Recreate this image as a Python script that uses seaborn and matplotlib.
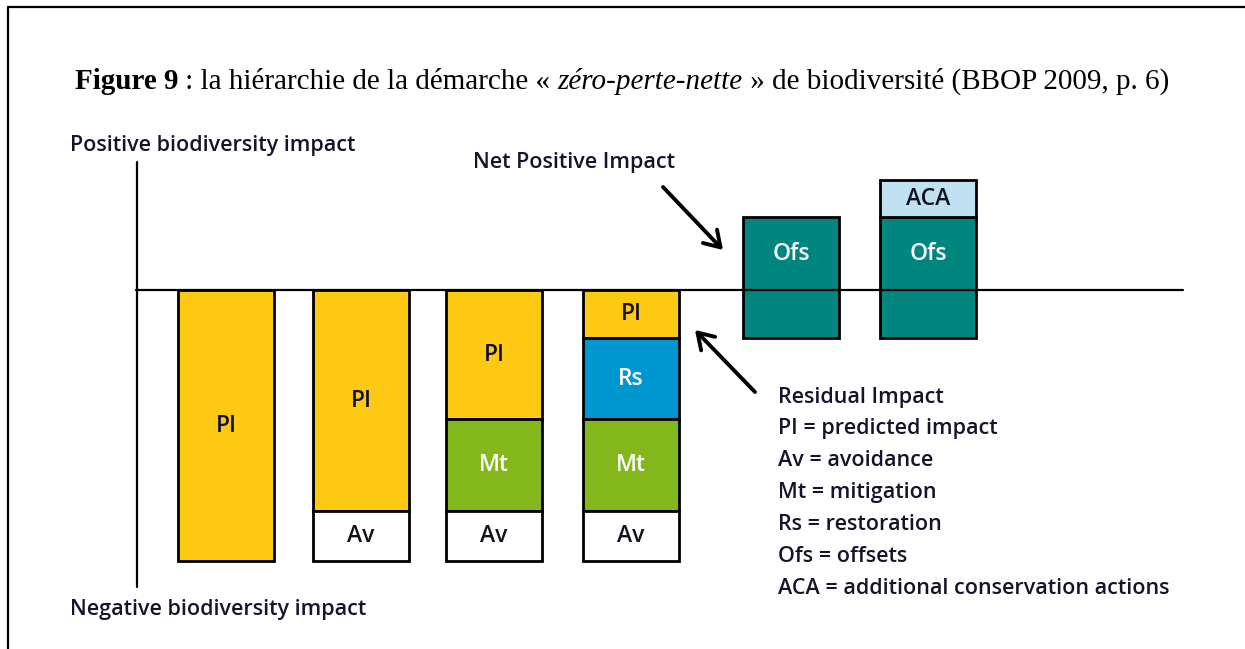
import matplotlib
matplotlib.use("Agg")
import matplotlib.pyplot as plt
import pandas as pd
import seaborn as sns

# bars of the mitigation hierarchy, left to right
bars = ["PI", "PI-Av", "PI-Av-Mt", "Residual", "Offset", "Offset+ACA"]
# losses, drawn below the zero line (impact units)
predicted = [27.1, 22.1, 12.9, 4.8, 0.0, 0.0]
restoration = [0.0, 0.0, 0.0, 8.1, 0.0, 0.0]
mitigation = [0.0, 0.0, 9.2, 9.2, 0.0, 0.0]
avoidance = [0.0, 5.0, 5.0, 5.0, 0.0, 0.0]
# gains; the offset starts below zero to cancel the residual impact
offsets = [0.0, 0.0, 0.0, 0.0, 12.1, 12.1]
offset_residual = [0.0, 0.0, 0.0, 0.0, 4.8, 4.8]
additional = [0.0, 0.0, 0.0, 0.0, 0.0, 3.7]

key_lines = [
    "Residual Impact",
    "PI = predicted impact",
    "Av = avoidance",
    "Mt = mitigation",
    "Rs = restoration",
    "Ofs = offsets",
    "ACA = additional conservation actions",
]
title_parts = [
    ("Figure 9", "normal", "bold"),
    (" : la hiérarchie de la démarche « ", "normal", "normal"),
    ("zéro-perte-nette", "italic", "normal"),
    (" » de biodiversité (BBOP 2009, p. 6)", "normal", "normal"),
]

# layout (pixels of the 1245x649 canvas)
W, H = 1245, 649
ZERO_PX = 290
PX_PER_UNIT = 10
BAR_X = [226, 361, 494, 631, 791, 928]
BAR_W = 96
COLORS = {
    "PI": "#fdc912",
    "Av": "#ffffff",
    "Mt": "#84b71b",
    "Rs": "#0096cf",
    "Ofs": "#00857f",
    "ACA": "#bfe1f1",
}
TEXT_COLORS = {"PI": "#111122", "Av": "#111122", "Mt": "white",
               "Rs": "white", "Ofs": "white", "ACA": "#111122"}
INK = "#14142a"
SANS = "Open Sans"
FS = 15.5


def Y(py):
    # canvas pixel row -> impact units
    return (ZERO_PX - py) / PX_PER_UNIT


rows = []
for i, bar in enumerate(bars):
    top = 0.0
    for name, vals in [("PI", predicted), ("Rs", restoration),
                       ("Mt", mitigation), ("Av", avoidance)]:
        if vals[i] > 0:
            rows.append((bar, name, top, -vals[i]))
            top -= vals[i]
    if offsets[i] > 0:
        rows.append((bar, "Ofs", -offset_residual[i], offsets[i]))
    if additional[i] > 0:
        rows.append((bar, "ACA", offsets[i] - offset_residual[i], additional[i]))
df = pd.DataFrame(rows, columns=["bar", "segment", "bottom", "height"])
df["x"] = df["bar"].map(dict(zip(bars, BAR_X)))

sns.set_theme(style="white")
fig = plt.figure(figsize=(W / 100, H / 100), dpi=100)
ax = fig.add_axes([0, 0, 1, 1])

for _, r in df.iterrows():
    sns.barplot(x=[r.x], y=[r.height], native_scale=True, orient="x",
                width=BAR_W, bottom=r.bottom, color=COLORS[r.segment],
                saturation=1, edgecolor="black", linewidth=2.0,
                errorbar=None, ax=ax, zorder=2)
    # label in the middle of the segment (positive part for offsets)
    lo, hi = sorted([r.bottom, r.bottom + r.height])
    if r.segment == "Ofs":
        lo = 0.0
    ax.text(r.x, (lo + hi) / 2, r.segment, ha="center", va="center",
            fontsize=16.5, fontweight="semibold", family=SANS,
            color=TEXT_COLORS[r.segment], zorder=4)

ax.set_xlim(0, W)
ax.set_ylim(Y(H), Y(0))
ax.axis("off")

# zero line and vertical axis
ax.plot([136, 1183], [0, 0], color="black", lw=1.6, zorder=3)
ax.plot([137, 137], [Y(162), Y(587)], color="black", lw=1.6, zorder=3)

# frame (top and left edges)
ax.plot([7.5, W], [Y(6.5), Y(6.5)], color="black", lw=1.6, clip_on=False)
ax.plot([7.5, 7.5], [Y(6.5), Y(H)], color="black", lw=1.6, clip_on=False)

txt = dict(family=SANS, fontsize=FS, color=INK, fontweight="semibold")
ax.text(70, Y(145), "Positive biodiversity impact", ha="left", va="center", **txt)
ax.text(70, Y(610), "Negative biodiversity impact", ha="left", va="center", **txt)
ax.text(473, Y(162), "Net Positive Impact", ha="left", va="center", **txt)
for k, line in enumerate(key_lines):
    base = 403 if k == 0 else 434 + 32 * (k - 1)
    ax.text(778, Y(base), line, ha="left", va="baseline", **txt)

arrow = dict(arrowstyle="->,head_length=0.55,head_width=0.35", lw=2.8,
             color="black", shrinkA=0, shrinkB=0, mutation_scale=20)
ax.annotate("", xy=(723, Y(250)), xytext=(663, Y(187)), arrowprops=arrow)
ax.annotate("", xy=(695, Y(330)), xytext=(755, Y(392)), arrowprops=arrow)

# title, built piece by piece
renderer = fig.canvas.get_renderer()
x = 75
for text, style, weight in title_parts:
    t = ax.text(x, Y(89), text, ha="left", va="baseline", fontsize=21,
                family="Liberation Serif", style=style, fontweight=weight,
                color="black")
    bb = t.get_window_extent(renderer)
    x += bb.width * W / (fig.get_figwidth() * fig.dpi)

fig.savefig("out.png", dpi=100, facecolor="white")
